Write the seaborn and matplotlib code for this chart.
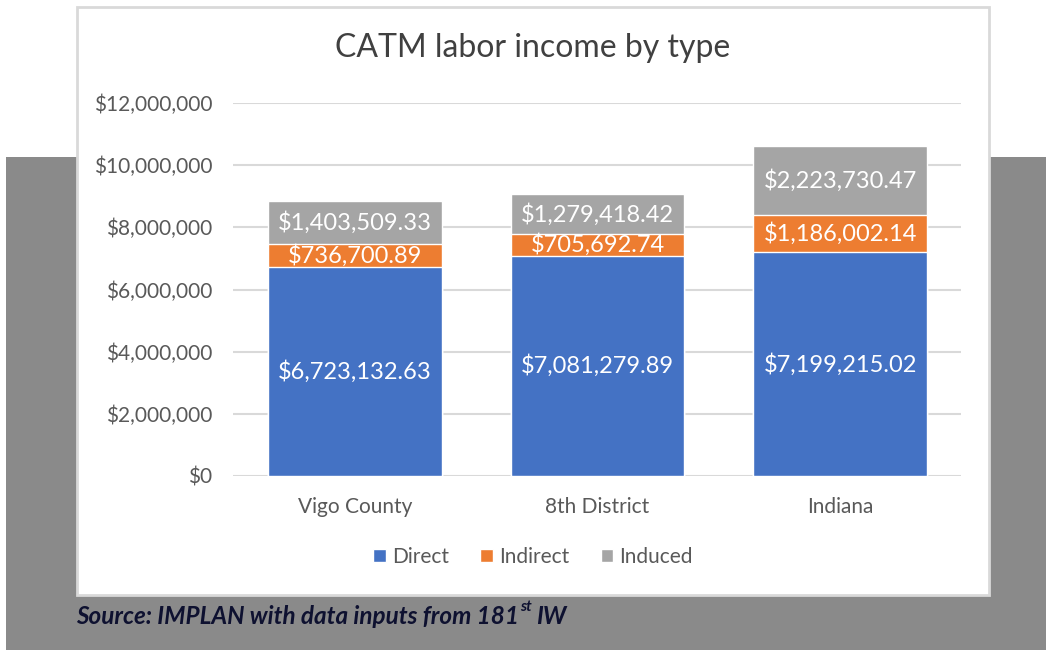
import matplotlib
matplotlib.use("Agg")
import matplotlib.pyplot as plt
from matplotlib.patches import Rectangle
from matplotlib.ticker import FuncFormatter
import seaborn as sns
import pandas as pd
import numpy as np

regions = ["Vigo County", "8th District", "Indiana"]
direct = [6723132.63, 7081279.89, 7199215.02]
indirect = [736700.89, 705692.74, 1186002.14]
induced = [1403509.33, 1279418.42, 2223730.47]
series_names = ["Direct", "Indirect", "Induced"]
colors = ["#4472C4", "#ED7D31", "#A5A5A5"]

sns.set_theme(style="white")
plt.rcParams['font.family'] = ['Lato', 'DejaVu Sans']

fig = plt.figure(figsize=(10.46, 6.5), dpi=100)
fig.patch.set_facecolor("white")

# backgrounds
fig.patches.append(Rectangle((0.0057, 0.0), 0.9943, 0.758, transform=fig.transFigure,
                             facecolor="#8A8A8A", edgecolor="none", zorder=-10))
fig.patches.append(Rectangle((0.0736, 0.0846), 0.872, 0.9046, transform=fig.transFigure,
                             facecolor="white", edgecolor="#D9D9D9", linewidth=2, zorder=-9))

ax = fig.add_axes([0.2232, 0.2677, 0.696, 0.5738])
ax.set_facecolor("none")

df = pd.DataFrame({"region": regions, "Direct": direct, "Indirect": indirect, "Induced": induced})
df["top_ind"] = df["Direct"] + df["Indirect"]
df["total"] = df["top_ind"] + df["Induced"]

width = 0.716
sns.barplot(data=df, x="region", y="total", color=colors[2], width=width, ax=ax,
            saturation=1, zorder=3)
sns.barplot(data=df, x="region", y="top_ind", color=colors[1], width=width, ax=ax,
            saturation=1, zorder=3)
sns.barplot(data=df, x="region", y="Direct", color=colors[0], width=width, ax=ax,
            saturation=1, zorder=3)

ax.set_xlim(-0.5, 2.5)
ax.set_ylim(0, 12000000)
ax.set_yticks(np.arange(0, 12000001, 2000000))
ax.yaxis.set_major_formatter(FuncFormatter(lambda v, p: f"${v:,.0f}"))
ax.grid(axis="y", color="#D9D9D9", linewidth=1.5, zorder=0)
ax.set_axisbelow(True)
for s in ax.spines.values():
    s.set_visible(False)
ax.tick_params(axis="both", length=0, labelcolor="#595959")
ax.tick_params(axis="y", pad=15, labelsize=15)
ax.tick_params(axis="x", pad=15, labelsize=15)
ax.set_xlabel("")
ax.set_ylabel("")

# segment labels
for i in range(len(regions)):
    segs = [(0, direct[i]), (direct[i], indirect[i]), (direct[i] + indirect[i], induced[i])]
    for b, h in segs:
        ax.text(i, b + h / 2, f"${h:,.2f}", ha="center", va="center", color="white",
                fontsize=17, zorder=5)

fig.text(0.5096, 1 - 48 / 650, "CATM labor income by type", ha="center", va="center",
         fontsize=23, color="#404040")

handles = [Rectangle((0, 0), 1, 1, facecolor=c) for c in colors]
fig.legend(handles, series_names, loc="center", bbox_to_anchor=(0.5096, 1 - 557 / 650),
           ncol=3, frameon=False, fontsize=15, handlelength=0.6, handleheight=0.6,
           columnspacing=1.5, handletextpad=0.3, labelcolor="#595959")

# source line with superscript
t1 = fig.text(76 / 1046, 1 - 617 / 650, "Source: IMPLAN with data inputs from 181",
              ha="left", va="center", fontsize=17.5, fontweight="bold", fontstyle="italic",
              color="#0E1130")
fig.canvas.draw()
bb = t1.get_window_extent()
x1 = bb.x1 / fig.bbox.width
t2 = fig.text(x1 + 0.0008, 1 - 607 / 650, "st", ha="left", va="center", fontsize=11,
              fontweight="bold", fontstyle="italic", color="#0E1130")
fig.canvas.draw()
bb2 = t2.get_window_extent()
x2 = bb2.x1 / fig.bbox.width
fig.text(x2 + 0.004, 1 - 617 / 650, "IW", ha="left", va="center", fontsize=17.5,
         fontweight="bold", fontstyle="italic", color="#0E1130")

fig.savefig("out.png", dpi=100)
